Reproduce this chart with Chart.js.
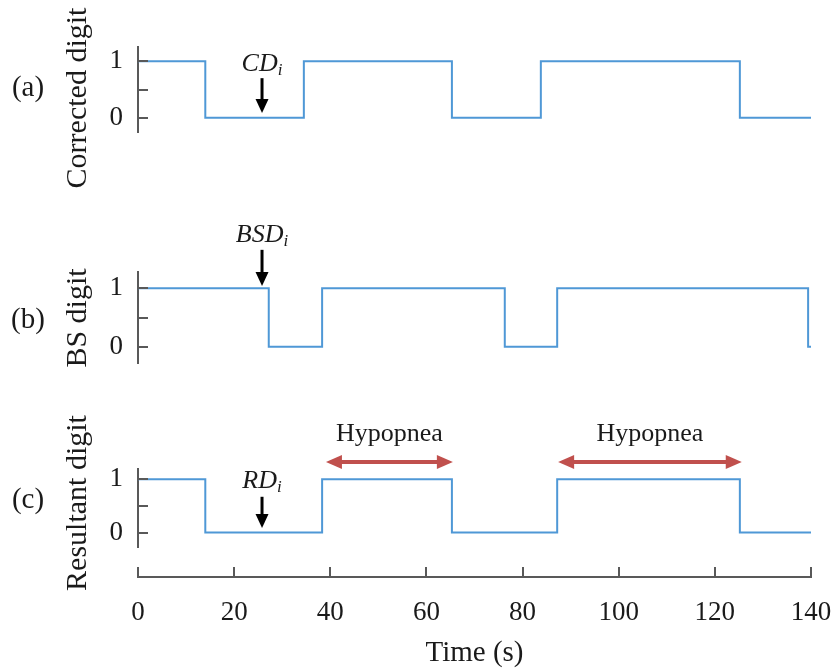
<!DOCTYPE html>
<html>
<head>
<meta charset="utf-8">
<title>Digit traces</title>
<script src="https://cdn.jsdelivr.net/npm/chart.js"></script>
<style>
  body { margin: 0; background: #fff; }
  #wrap { position: relative; width: 838px; height: 671px; }
  #wrap canvas { position: absolute; left: 0; top: 0; }
</style>
</head>
<body>
<div id="wrap">
  <canvas id="chartA" width="838" height="671"></canvas>
  <canvas id="chartB" width="838" height="671"></canvas>
  <canvas id="chartC" width="838" height="671"></canvas>
  <canvas id="timeAxis" width="838" height="671"></canvas>
</div>
<script>
// step traces: time (s) where the digit switches, and the digit from there on
const corrTimes  = [0, 14, 34.5, 65.3, 83.8, 125.2, 140];
const corrDigits = [1, 0, 1, 0, 1, 0, 0];

const bsTimes  = [0, 27.2, 38.3, 76.3, 87.2, 139.4, 140];
const bsDigits = [1, 0, 1, 0, 1, 0, 0];

const resTimes  = [0, 14, 38.3, 65.3, 87.2, 125.2, 140];
const resDigits = [1, 0, 1, 0, 1, 0, 0];

// hypopnea events marked over the resultant digit (start, end in s)
const hypopneaSpans = [[39.1, 65.5], [87.4, 125.6]];

const yTicks = [0, 0.5, 1];
const xTicks = [0, 20, 40, 60, 80, 100, 120, 140];

const serif = "'Liberation Serif', 'Times New Roman', serif";
const ink = '#1a1a1a';
const axisColor = '#595959';
const lineColor = '#4f98d6';
const arrowRed = '#c0504d';

Chart.defaults.font.family = serif;
Chart.defaults.color = ink;

function downArrow(ctx, x, yTop, yTip) {
    ctx.save();
    ctx.strokeStyle = '#000';
    ctx.fillStyle = '#000';
    ctx.lineWidth = 3;
    ctx.beginPath();
    ctx.moveTo(x, yTop);
    ctx.lineTo(x, yTip - 12);
    ctx.stroke();
    ctx.beginPath();
    ctx.moveTo(x - 6.5, yTip - 14);
    ctx.lineTo(x + 6.5, yTip - 14);
    ctx.lineTo(x, yTip);
    ctx.closePath();
    ctx.fill();
    ctx.restore();
}

function doubleArrow(ctx, x0, x1, y) {
    ctx.save();
    ctx.strokeStyle = arrowRed;
    ctx.fillStyle = arrowRed;
    ctx.lineWidth = 4;
    ctx.beginPath();
    ctx.moveTo(x0 + 12, y);
    ctx.lineTo(x1 - 12, y);
    ctx.stroke();
    ctx.beginPath();
    ctx.moveTo(x0, y);
    ctx.lineTo(x0 + 16, y - 7);
    ctx.lineTo(x0 + 16, y + 7);
    ctx.closePath();
    ctx.fill();
    ctx.beginPath();
    ctx.moveTo(x1, y);
    ctx.lineTo(x1 - 16, y - 7);
    ctx.lineTo(x1 - 16, y + 7);
    ctx.closePath();
    ctx.fill();
    ctx.restore();
}

// italic name with a subscript, centred on x
function subLabel(ctx, x, baseline, main, sub) {
    ctx.save();
    ctx.fillStyle = ink;
    ctx.textBaseline = 'alphabetic';
    ctx.textAlign = 'left';
    ctx.font = 'italic 26px ' + serif;
    let w1 = ctx.measureText(main).width;
    ctx.font = 'italic 17px ' + serif;
    let w2 = ctx.measureText(sub).width;
    let start = x - (w1 + w2) / 2;
    ctx.font = 'italic 26px ' + serif;
    ctx.fillText(main, start, baseline);
    ctx.font = 'italic 17px ' + serif;
    ctx.fillText(sub, start + w1, baseline + 4);
    ctx.restore();
}

// short tick marks pointing into the plot, plus the arrows and side labels
const panelExtras = {
    id: 'panelExtras',
    afterDraw(chart, args, opts) {
        const ctx = chart.ctx;
        const xs = chart.scales.x, ys = chart.scales.y;
        const left = chart.chartArea.left;

        ctx.save();
        ctx.strokeStyle = axisColor;
        ctx.lineWidth = 2;
        ys.ticks.forEach(t => {
            let py = Math.round(ys.getPixelForValue(t.value));
            ctx.beginPath();
            ctx.moveTo(left, py);
            ctx.lineTo(left + 10, py);
            ctx.stroke();
        });
        ctx.restore();

        if (opts.pointer) {
            let p = opts.pointer;
            let px = xs.getPixelForValue(p.x);
            subLabel(ctx, px, ys.getPixelForValue(p.textY), p.main, p.sub);
            downArrow(ctx, px, ys.getPixelForValue(p.from), ys.getPixelForValue(p.to));
        }

        (opts.spans || []).forEach(s => {
            let x0 = xs.getPixelForValue(s[0]), x1 = xs.getPixelForValue(s[1]);
            doubleArrow(ctx, x0, x1, ys.getPixelForValue(opts.spanY));
            ctx.save();
            ctx.fillStyle = ink;
            ctx.font = '26px ' + serif;
            ctx.textAlign = 'center';
            ctx.textBaseline = 'alphabetic';
            ctx.fillText(opts.spanText, (x0 + x1) / 2, ys.getPixelForValue(opts.spanTextY));
            ctx.restore();
        });

        if (opts.side) {
            let s = opts.side;
            ctx.save();
            ctx.fillStyle = ink;
            ctx.textAlign = 'center';
            ctx.textBaseline = 'middle';
            ctx.font = '29px ' + serif;
            ctx.fillText(s.tag, 28, s.tagY);
            ctx.translate(78, s.titleY);
            ctx.rotate(-Math.PI / 2);
            ctx.font = '30px ' + serif;
            ctx.fillText(s.title, 0, 0);
            ctx.restore();
        }
    }
};

function drawPanel(id, times, digits, yMin, yMax, top, bottom, extras) {
    let data = {
        datasets: [{
            data: times.map((t, i) => ({x: t, y: digits[i]})),
            stepped: true,
            borderColor: lineColor,
            borderWidth: 2,
            pointRadius: 0,
            fill: false
        }]
    };
    let config = {
        type: 'line',
        data,
        options: {
            responsive: false,
            animation: false,
            layout: {padding: {left: 0, right: 27, top: top, bottom: 671 - bottom}},
            plugins: {legend: {display: false}, tooltip: {enabled: false}, panelExtras: extras},
            scales: {
                x: {type: 'linear', display: false, min: 0, max: 140},
                y: {
                    min: yMin,
                    max: yMax,
                    afterBuildTicks: s => { s.ticks = yTicks.map(v => ({value: v})); },
                    afterFit: s => { s.width = 138; s.paddingTop = 0; s.paddingBottom = 0; },
                    grid: {display: false, drawTicks: false},
                    border: {display: true, color: axisColor, width: 2},
                    ticks: {
                        padding: 15,
                        color: ink,
                        font: {size: 27},
                        callback: v => (v === 0.5 ? '' : v)
                    }
                }
            }
        },
        plugins: [panelExtras]
    };
    return new Chart(document.getElementById(id), config);
}

drawPanel('chartA', corrTimes, corrDigits, -0.25, 1.25, 47, 132, {
    pointer: {x: 25.8, main: 'CD', sub: 'i', textY: 0.83, from: 0.7, to: 0.085},
    side: {tag: '(a)', tagY: 88, title: 'Corrected digit', titleY: 98}
});

drawPanel('chartB', bsTimes, bsDigits, -0.28, 1.28, 272, 363, {
    pointer: {x: 25.8, main: 'BSD', sub: 'i', textY: 1.79, from: 1.66, to: 1.04},
    side: {tag: '(b)', tagY: 320, title: 'BS digit', titleY: 318}
});

drawPanel('chartC', resTimes, resDigits, -0.27, 1.19, 469, 547, {
    pointer: {x: 25.8, main: 'RD', sub: 'i', textY: 0.83, from: 0.67, to: 0.086},
    spans: hypopneaSpans,
    spanY: 1.32,
    spanText: 'Hypopnea',
    spanTextY: 1.71,
    side: {tag: '(c)', tagY: 500, title: 'Resultant digit', titleY: 503}
});

// shared time axis, drawn on its own below the three traces
new Chart(document.getElementById('timeAxis'), {
    type: 'line',
    data: {datasets: []},
    options: {
        responsive: false,
        animation: false,
        layout: {padding: {left: 138, right: 27, top: 567, bottom: 0}},
        plugins: {legend: {display: false}, tooltip: {enabled: false}},
        scales: {
            x: {
                type: 'linear',
                position: 'bottom',
                min: 0,
                max: 140,
                afterBuildTicks: s => { s.ticks = xTicks.map(v => ({value: v})); },
                afterFit: s => { s.height = 94; s.paddingLeft = 0; s.paddingRight = 0; },
                grid: {display: true, drawOnChartArea: true, drawTicks: false, color: axisColor, lineWidth: 2},
                border: {display: true, color: axisColor, width: 2},
                ticks: {padding: 20, color: ink, font: {size: 27}},
                title: {display: true, text: 'Time (s)', color: ink, font: {size: 29}, padding: {top: 0, bottom: 0}}
            },
            y: {display: false, min: 0, max: 1}
        }
    }
});
</script>
</body>
</html>
